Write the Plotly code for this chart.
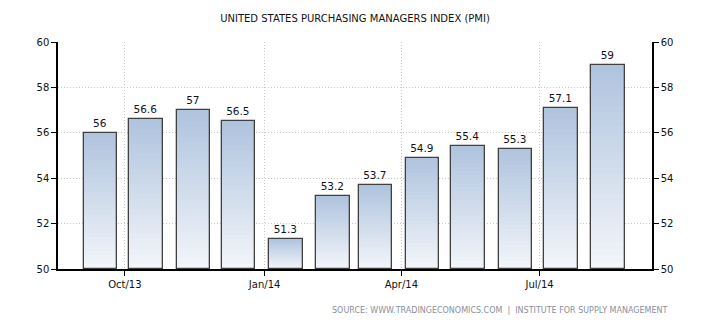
import plotly.graph_objects as go

months = ["2013-09-15", "2013-10-15", "2013-11-15", "2013-12-15", "2014-01-15", "2014-02-15",
          "2014-03-15", "2014-04-15", "2014-05-15", "2014-06-15", "2014-07-15", "2014-08-15"]
pmi = [56, 56.6, 57, 56.5, 51.3, 53.2, 53.7, 54.9, 55.4, 55.3, 57.1, 59]
labels = ["56", "56.6", "57", "56.5", "51.3", "53.2", "53.7", "54.9", "55.4", "55.3", "57.1", "59"]
tick_dates = ["2013-10-01", "2014-01-01", "2014-04-01", "2014-07-01"]
tick_text = ["Oct/13", "Jan/14", "Apr/14", "Jul/14"]
y_ticks = [50, 52, 54, 56, 58, 60]

BASE = 50
BAR_W = 22 * 86400000
top_rgb = (176, 196, 222)
bot_rgb = (242, 245, 250)
N = 30

fig = go.Figure()
for k in range(N):
    f = 1 - k / N
    t = k / (N - 1)
    c = tuple(round(top_rgb[i] + (bot_rgb[i] - top_rgb[i]) * t) for i in range(3))
    fig.add_trace(go.Bar(
        x=months, y=[(v - BASE) * f for v in pmi], base=BASE, width=BAR_W,
        marker=dict(color="rgb(%d,%d,%d)" % c, line=dict(width=0)),
        hoverinfo="skip", showlegend=False))

fig.add_trace(go.Bar(
    x=months, y=[v - BASE for v in pmi], base=BASE, width=BAR_W,
    marker=dict(color="rgba(0,0,0,0)", line=dict(color="#404040", width=1.3)),
    text=labels, textposition="outside", cliponaxis=False,
    textfont=dict(family="DejaVu Sans", size=10.5, color="#111122"),
    hovertemplate="%{x}: %{text}<extra></extra>", showlegend=False))

fig.add_trace(go.Scatter(x=[months[0]], y=[BASE], yaxis="y2", mode="markers",
                         marker=dict(opacity=0), hoverinfo="skip", showlegend=False))

axis_font = dict(family="DejaVu Sans", size=10, color="#111111")
fig.update_layout(
    width=710, height=325,
    margin=dict(l=58, r=58, t=42, b=56),
    paper_bgcolor="white", plot_bgcolor="white",
    barmode="overlay", bargap=0,
    title=dict(text="UNITED STATES PURCHASING MANAGERS INDEX (PMI)",
               x=0.5, xanchor="center", y=0.942, yanchor="middle",
               font=dict(family="DejaVu Sans", size=10, color="#111111")),
    xaxis=dict(type="date", range=["2013-08-18", "2014-09-13"],
               tickvals=tick_dates, ticktext=tick_text,
               showgrid=True, gridcolor="#c8c8c8", griddash="1px,2px", gridwidth=1,
               showline=True, linecolor="black", linewidth=1.5,
               ticks="outside", ticklen=5, tickcolor="black",
               tickfont=axis_font, zeroline=False),
    yaxis=dict(range=[50, 60], tickvals=y_ticks,
               showgrid=True, gridcolor="#c8c8c8", griddash="1px,2px", gridwidth=1,
               showline=True, linecolor="black", linewidth=1.5,
               ticks="outside", ticklen=5, tickcolor="black",
               tickfont=axis_font, zeroline=False),
    yaxis2=dict(range=[50, 60], tickvals=y_ticks, overlaying="y", side="right",
                showgrid=False, showline=True, linecolor="black", linewidth=1.5,
                ticks="outside", ticklen=5, tickcolor="black",
                tickfont=axis_font, zeroline=False),
    annotations=[dict(text="SOURCE: WWW.TRADINGECONOMICS.COM  |  INSTITUTE FOR SUPPLY MANAGEMENT",
                      xref="paper", yref="paper", x=1.028, y=-0.181,
                      xanchor="right", yanchor="middle", showarrow=False,
                      font=dict(family="DejaVu Sans", size=8, color="#8a8f9c"))],
)

fig.write_html("out.html")
